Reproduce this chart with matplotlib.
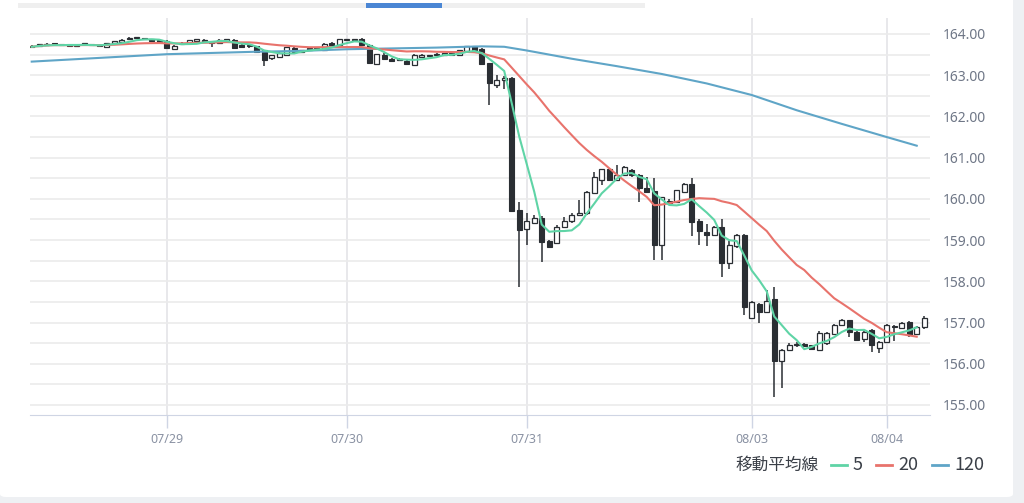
import matplotlib
matplotlib.use("Agg")
import matplotlib.pyplot as plt
import numpy as np
import pandas as pd
from matplotlib.patches import Rectangle, FancyBboxPatch
from matplotlib.lines import Line2D

# hourly candles
opens = [163.71, 163.72, 163.73, 163.77, 163.75, 163.73, 163.70, 163.75, 163.75, 163.72,
         163.69, 163.79, 163.80, 163.88, 163.90, 163.89, 163.87, 163.85, 163.84, 163.64,
         163.79, 163.77, 163.84, 163.82, 163.82, 163.77, 163.84, 163.86, 163.74, 163.72,
         163.70, 163.60, 163.42, 163.44, 163.48, 163.66, 163.57, 163.64, 163.66, 163.61,
         163.78, 163.73, 163.86, 163.86, 163.88, 163.74, 163.27, 163.50, 163.39, 163.37,
         163.35, 163.24, 163.45, 163.46, 163.49, 163.50, 163.52, 163.50, 163.58, 163.70,
         163.64, 163.29, 162.76, 162.88, 162.94, 159.73, 159.27, 159.41, 159.53, 158.98,
         158.92, 159.32, 159.47, 159.61, 159.65, 160.15, 160.47, 160.72, 160.46, 160.58,
         160.70, 160.58, 160.27, 160.19, 158.88, 159.95, 159.93, 160.17, 160.35, 159.46,
         159.20, 159.12, 159.32, 158.45, 158.85, 159.12, 157.12, 157.46, 157.26, 157.56,
         156.07, 156.33, 156.45, 156.47, 156.45, 156.33, 156.50, 156.73, 156.94, 157.06,
         156.77, 156.59, 156.82, 156.39, 156.53, 156.91, 156.86, 157.02, 156.73, 156.90]
highs = [163.73, 163.74, 163.78, 163.79, 163.76, 163.74, 163.74, 163.78, 163.76, 163.73,
         163.79, 163.82, 163.87, 163.93, 163.91, 163.90, 163.88, 163.86, 163.85, 163.74,
         163.81, 163.86, 163.85, 163.87, 163.83, 163.87, 163.85, 163.87, 163.76, 163.76,
         163.71, 163.61, 163.50, 163.56, 163.69, 163.68, 163.62, 163.67, 163.68, 163.78,
         163.80, 163.89, 163.87, 163.87, 163.90, 163.76, 163.52, 163.53, 163.41, 163.42,
         163.37, 163.51, 163.51, 163.48, 163.53, 163.54, 163.53, 163.61, 163.71, 163.72,
         163.66, 163.30, 163.00, 162.97, 162.96, 159.93, 159.65, 159.60, 159.58, 159.00,
         159.36, 159.56, 159.65, 159.98, 160.18, 160.66, 160.72, 160.73, 160.83, 160.80,
         160.73, 160.60, 160.54, 160.50, 160.05, 160.00, 160.22, 160.38, 160.51, 159.50,
         159.38, 159.34, 159.51, 158.98, 159.15, 159.16, 157.52, 157.48, 157.80, 157.87,
         156.36, 156.50, 156.54, 156.51, 156.46, 156.80, 156.78, 156.96, 157.09, 157.07,
         156.84, 156.82, 156.84, 156.55, 156.97, 156.93, 157.01, 157.04, 156.92, 157.17]
lows = [163.68, 163.71, 163.72, 163.74, 163.72, 163.70, 163.69, 163.74, 163.72, 163.69,
        163.67, 163.78, 163.79, 163.87, 163.89, 163.86, 163.82, 163.80, 163.63, 163.62,
        163.73, 163.76, 163.83, 163.80, 163.68, 163.76, 163.83, 163.65, 163.66, 163.66,
        163.55, 163.22, 163.36, 163.43, 163.47, 163.55, 163.54, 163.61, 163.63, 163.59,
        163.73, 163.72, 163.85, 163.85, 163.72, 163.28, 163.24, 163.36, 163.33, 163.34,
        163.24, 163.22, 163.44, 163.44, 163.48, 163.49, 163.49, 163.49, 163.57, 163.60,
        163.24, 162.28, 162.69, 162.67, 159.70, 157.87, 158.88, 159.38, 158.47, 158.80,
        158.90, 159.30, 159.42, 159.58, 159.62, 160.13, 160.33, 160.45, 160.45, 160.56,
        160.52, 159.93, 160.15, 158.51, 158.51, 159.86, 159.90, 160.15, 159.10, 158.88,
        158.85, 159.10, 158.10, 158.30, 158.80, 157.18, 157.10, 157.00, 157.25, 155.20,
        155.41, 156.30, 156.40, 156.40, 156.33, 156.30, 156.46, 156.71, 156.93, 156.65,
        156.55, 156.54, 156.29, 156.25, 156.52, 156.56, 156.85, 156.66, 156.72, 156.85]
closes = [163.69, 163.73, 163.75, 163.75, 163.73, 163.71, 163.73, 163.76, 163.73, 163.70,
          163.78, 163.81, 163.86, 163.90, 163.90, 163.87, 163.83, 163.81, 163.65, 163.72,
          163.75, 163.85, 163.84, 163.83, 163.77, 163.86, 163.84, 163.67, 163.69, 163.70,
          163.56, 163.38, 163.48, 163.54, 163.68, 163.56, 163.59, 163.62, 163.65, 163.76,
          163.74, 163.88, 163.86, 163.86, 163.73, 163.30, 163.51, 163.40, 163.34, 163.38,
          163.26, 163.48, 163.47, 163.47, 163.51, 163.52, 163.50, 163.60, 163.70, 163.62,
          163.27, 162.80, 162.88, 162.94, 159.71, 159.24, 159.46, 159.53, 158.95, 158.83,
          159.32, 159.47, 159.61, 159.66, 160.16, 160.52, 160.72, 160.46, 160.59, 160.78,
          160.58, 160.26, 160.17, 158.88, 160.05, 159.90, 160.21, 160.35, 159.44, 159.22,
          159.12, 159.32, 158.45, 158.88, 159.12, 157.37, 157.50, 157.26, 157.53, 156.07,
          156.33, 156.45, 156.48, 156.44, 156.35, 156.75, 156.75, 156.94, 157.06, 156.77,
          156.57, 156.77, 156.45, 156.53, 156.94, 156.89, 157.00, 156.69, 156.90, 157.10]

# 120 period average needs older data, so read it off the chart
ma120_idx = [0, 6, 12, 18, 24, 30, 36, 42, 48, 54, 60, 63, 66, 72, 78, 84, 90, 96, 102, 108, 114, 118]
ma120_val = [163.33, 163.39, 163.45, 163.51, 163.54, 163.57, 163.59, 163.63, 163.65, 163.67, 163.70,
             163.69, 163.60, 163.40, 163.22, 163.03, 162.80, 162.52, 162.15, 161.82, 161.50, 161.29]

tick_pos = [18, 42, 66, 96, 114]
tick_lab = ["07/29", "07/30", "07/31", "08/03", "08/04"]

dark = "#2a2e33"
c5, c20, c120 = "#5fd4a6", "#e8736c", "#5fa5c7"

o = np.array(opens); h = np.array(highs); l = np.array(lows); c = np.array(closes)
x = np.arange(len(c))
s = pd.Series(c)
ma5 = s.rolling(5, min_periods=1).mean().values[:-1]
ma20 = s.rolling(20, min_periods=1).mean().values[:-1]

fig = plt.figure(figsize=(10.24, 5.03), dpi=100)
fig.patch.set_facecolor("#eef0f3")
card = FancyBboxPatch((0, 6 / 503), 1013 / 1024, 1.2, transform=fig.transFigure,
                      boxstyle="round,pad=0,rounding_size=0.006", fc="white", ec="none", zorder=-2)
fig.patches.append(card)
# scroll bar on top
fig.patches.append(Rectangle((18 / 1024, 1 - 8 / 503), 627 / 1024, 5 / 503,
                             transform=fig.transFigure, fc="#efefef", ec="none", zorder=-1))
fig.patches.append(Rectangle((366 / 1024, 1 - 8 / 503), 76 / 1024, 5 / 503,
                             transform=fig.transFigure, fc="#4a86d4", ec="none", zorder=-1))

ax = fig.add_axes([30 / 1024, 1 - 415 / 503, 900 / 1024, 397 / 503])
ax.set_facecolor("none")

ax.set_yticks(np.arange(155, 164.1, 1.0))
ax.set_yticks(np.arange(155.5, 164, 1.0), minor=True)
ax.grid(axis="y", which="both", color="#ebebeb", lw=1.2, zorder=0)
ax.grid(axis="x", color="#e4e4e8", lw=1.2, zorder=0)
ax.set_axisbelow(True)

up = c >= o
bot = np.minimum(o, c)
hgt = np.maximum(np.abs(c - o), 0.03)
ax.vlines(x, l, h, color=dark, lw=1.1, zorder=2)
ax.bar(x[~up], hgt[~up], bottom=bot[~up], width=0.64, color=dark, edgecolor=dark, lw=0.8, zorder=3)
ax.bar(x[up], hgt[up], bottom=bot[up], width=0.64, color="white", edgecolor=dark, lw=0.9, zorder=3)

ax.plot(ma120_idx, ma120_val, color=c120, lw=1.5, zorder=4)
ax.plot(x[:-1], ma20, color=c20, lw=1.5, zorder=4)
ax.plot(x[:-1], ma5, color=c5, lw=1.5, zorder=4)

ax.set_xlim(-0.23, 119.77)
ax.set_ylim(154.757, 164.388)
ax.set_xticks(tick_pos)
ax.set_xticklabels(tick_lab, fontsize=9, color="#8a92a3", family="Noto Sans")
ax.yaxis.tick_right()
ax.set_yticklabels(["%.2f" % v for v in np.arange(155, 164.1, 1.0)],
                   fontsize=10, color="#6f7787", family="Noto Sans")
ax.tick_params(axis="y", which="both", length=0, pad=9)
ax.tick_params(axis="x", length=9, width=1, color="#cfd5e4", pad=4)
for k in ["top", "left", "right"]:
    ax.spines[k].set_visible(False)
ax.spines["bottom"].set_color("#cfd5e4")

# legend
fam = ["Noto Sans CJK JP", "DejaVu Sans"]
ly = 1 - 465 / 503
fig.text(735 / 1024, ly, "移動平均線", fontsize=12, color="#3a3f47", family=fam, va="center")
for x0, col, lab in [(831, c5, "5"), (876, c20, "20"), (932, c120, "120")]:
    fig.add_artist(Line2D([x0 / 1024, (x0 + 16) / 1024], [ly, ly], transform=fig.transFigure,
                          color=col, lw=2))
    fig.text((x0 + 22) / 1024, ly, lab, fontsize=13, color="#3a3f47", family=fam, va="center")

fig.savefig("out.png", dpi=100, facecolor=fig.get_facecolor())
